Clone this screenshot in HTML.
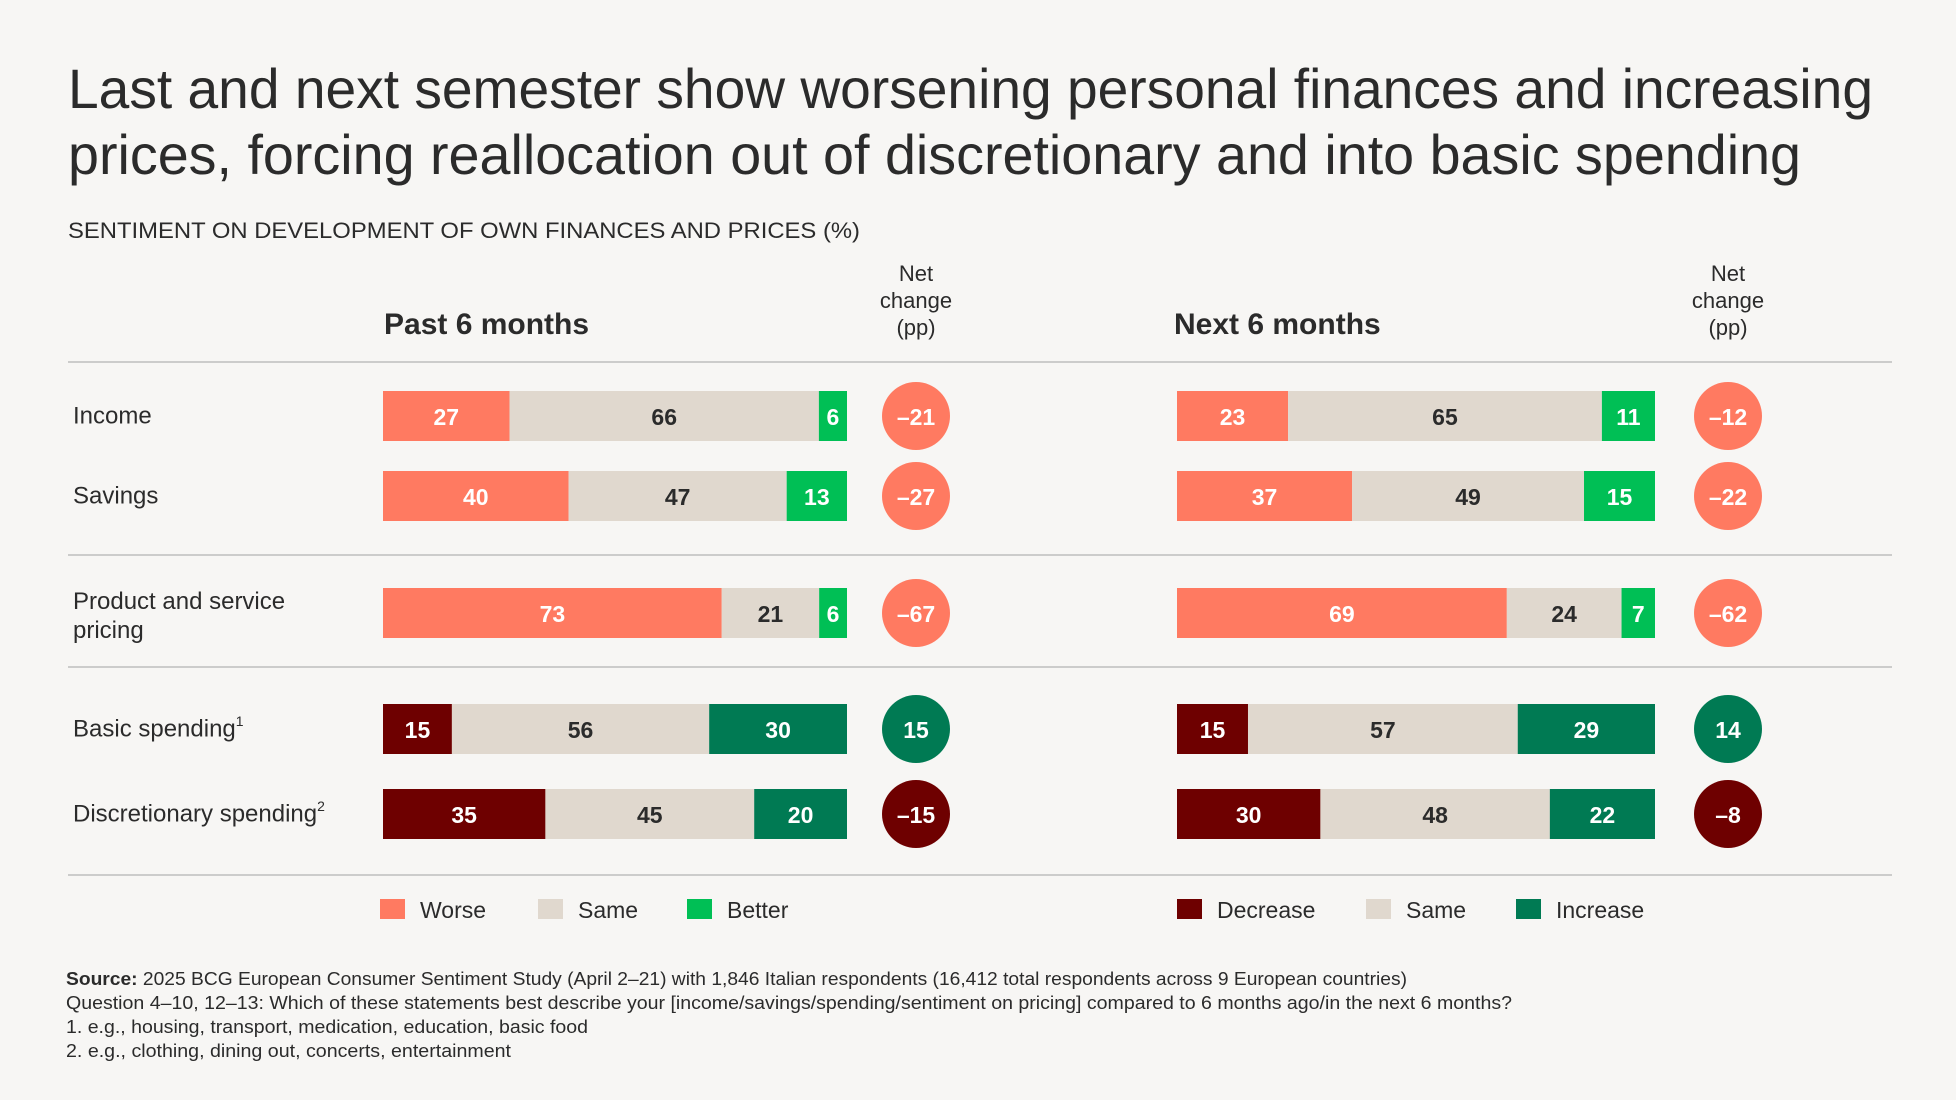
<!DOCTYPE html>
<html><head><meta charset="utf-8"><style>
body{margin:0;background:#F7F6F4;}
svg{display:block;font-family:"Liberation Sans",sans-serif;}
</style></head><body>
<svg id="c" width="1956" height="1100" viewBox="0 0 1956 1100">
<rect width="1956" height="1100" fill="#F7F6F4"/>
<text x="68" y="108" font-size="56" fill="#2b2b2b" textLength="1805" lengthAdjust="spacingAndGlyphs">Last and next semester show worsening personal finances and increasing</text>
<text x="68" y="174" font-size="56" fill="#2b2b2b" textLength="1733" lengthAdjust="spacingAndGlyphs">prices, forcing reallocation out of discretionary and into basic spending</text>
<text x="68" y="238" font-size="22" fill="#2b2b2b" textLength="792" lengthAdjust="spacingAndGlyphs">SENTIMENT ON DEVELOPMENT OF OWN FINANCES AND PRICES (%)</text>
<text x="384" y="334" font-size="30" font-weight="bold" fill="#2b2b2b">Past 6 months</text>
<text x="1174" y="334" font-size="30" font-weight="bold" fill="#2b2b2b">Next 6 months</text>
<g font-size="22" fill="#2b2b2b" text-anchor="middle">
<text x="916" y="281">Net</text><text x="916" y="308">change</text><text x="916" y="335">(pp)</text></g>
<g font-size="22" fill="#2b2b2b" text-anchor="middle">
<text x="1728" y="281">Net</text><text x="1728" y="308">change</text><text x="1728" y="335">(pp)</text></g>
<g stroke="#bdbdbd" stroke-width="1.5">
<line x1="68" x2="1892" y1="362" y2="362"/><line x1="68" x2="1892" y1="555" y2="555"/>
<line x1="68" x2="1892" y1="667" y2="667"/><line x1="68" x2="1892" y1="875" y2="875"/></g>
<g id="bars"></g>
<g id="legend" font-size="23" fill="#2b2b2b"></g>
<g font-size="18" fill="#2b2b2b">
<text x="66" y="985" textLength="1341" lengthAdjust="spacingAndGlyphs"><tspan font-weight="bold">Source:</tspan> 2025 BCG European Consumer Sentiment Study (April 2–21) with 1,846 Italian respondents (16,412 total respondents across 9 European countries)</text>
<text x="66" y="1009" textLength="1446" lengthAdjust="spacingAndGlyphs">Question 4–10, 12–13: Which of these statements best describe your [income/savings/spending/sentiment on pricing] compared to 6 months ago/in the next 6 months?</text>
<text x="66" y="1033" textLength="522" lengthAdjust="spacingAndGlyphs">1. e.g., housing, transport, medication, education, basic food</text>
<text x="66" y="1057" textLength="445" lengthAdjust="spacingAndGlyphs">2. e.g., clothing, dining out, concerts, entertainment</text>
</g>
</svg>
<script>
const categories = ["Income","Savings","Product and service pricing","Basic spending","Discretionary spending"];
const pastNeg = [27,40,73,15,35];
const pastSame = [66,47,21,56,45];
const pastPos = [6,13,6,30,20];
const pastNet = [-21,-27,-67,15,-15];
const nextNeg = [23,37,69,15,30];
const nextSame = [65,49,24,57,48];
const nextPos = [11,15,7,29,22];
const nextNet = [-12,-22,-62,14,-8];

const NS="http://www.w3.org/2000/svg";
const g=document.getElementById('bars');
const rowY=[391,471,588,704,789];
const spending=[false,false,false,true,true];
const C={worse:"#FF7A61",same:"#E0D8CE",better:"#00BF55",dec:"#6E0000",inc:"#007A53"};
function el(t,a,p){const e=document.createElementNS(NS,t);for(const k in a)e.setAttribute(k,a[k]);(p||g).appendChild(e);return e;}
function txt(x,y,s,fill,size,weight,anchor){const e=el('text',{x:x,y:y,fill:fill,'font-size':size,'font-weight':weight||'normal','text-anchor':anchor||'middle','dominant-baseline':'central'});e.textContent=s;return e;}
function fmt(v){return v<0?'\u2013'+Math.abs(v):''+v;}
categories.forEach((c,i)=>{
  const y=rowY[i];
  let lab;
  if(i===2){lab=el('text',{x:73,y:y+35,fill:'#2b2b2b','font-size':24});
    const t1=el('tspan',{x:73,dy:-14},lab);t1.textContent='Product and service';
    const t2=el('tspan',{x:73,dy:29},lab);t2.textContent='pricing';}
  else{lab=txt(73,y+25,c,'#2b2b2b',24,'normal','start');
    if(spending[i]){const s=el('tspan',{'font-size':14,dy:-8},lab);s.textContent=i===3?'1':'2';}}
  
  
  [[383,464,pastNeg,pastSame,pastPos,pastNet,916,'past'],[1177,478,nextNeg,nextSame,nextPos,nextNet,1728,'next']].forEach(p=>{
    const [x0,W,neg,same,pos,net,cx,nm]=p;
    const vals=[neg[i],same[i],pos[i]];
    const tot=vals[0]+vals[1]+vals[2];
    const cols=spending[i]?[C.dec,C.same,C.inc]:[C.worse,C.same,C.better];
    let x=x0;
    vals.forEach((v,k)=>{
      const w=v/tot*W;
      const r=el('rect',{x:x,y:y,width:w,height:50,fill:cols[k]});
      
      
      const t=txt(x+w/2,y+26,''+v,k===1?'#2b2b2b':'#fff',23,'bold');
      
      
      x+=w;
    });
    const n=net[i];
    const cf=spending[i]?(n>=0?C.inc:C.dec):C.worse;
    const ci=el('ellipse',{cx:cx,cy:y+25,rx:34,ry:34,fill:cf});
    
    
    const t=txt(cx,y+26,fmt(n),'#fff',23,'bold');
    
    
  });
});
const lg=document.getElementById('legend');
[[380,C.worse,'Worse'],[538,C.same,'Same'],[687,C.better,'Better'],[1177,C.dec,'Decrease'],[1366,C.same,'Same'],[1516,C.inc,'Increase']].forEach(l=>{
  const r=el('rect',{x:l[0],y:899,width:25,height:20,fill:l[1]},lg);
  
  
  const t=el('text',{x:l[0]+40,y:910,'dominant-baseline':'central'},lg);
  t.textContent=l[2];
  
  
});
</script>
</body></html>
